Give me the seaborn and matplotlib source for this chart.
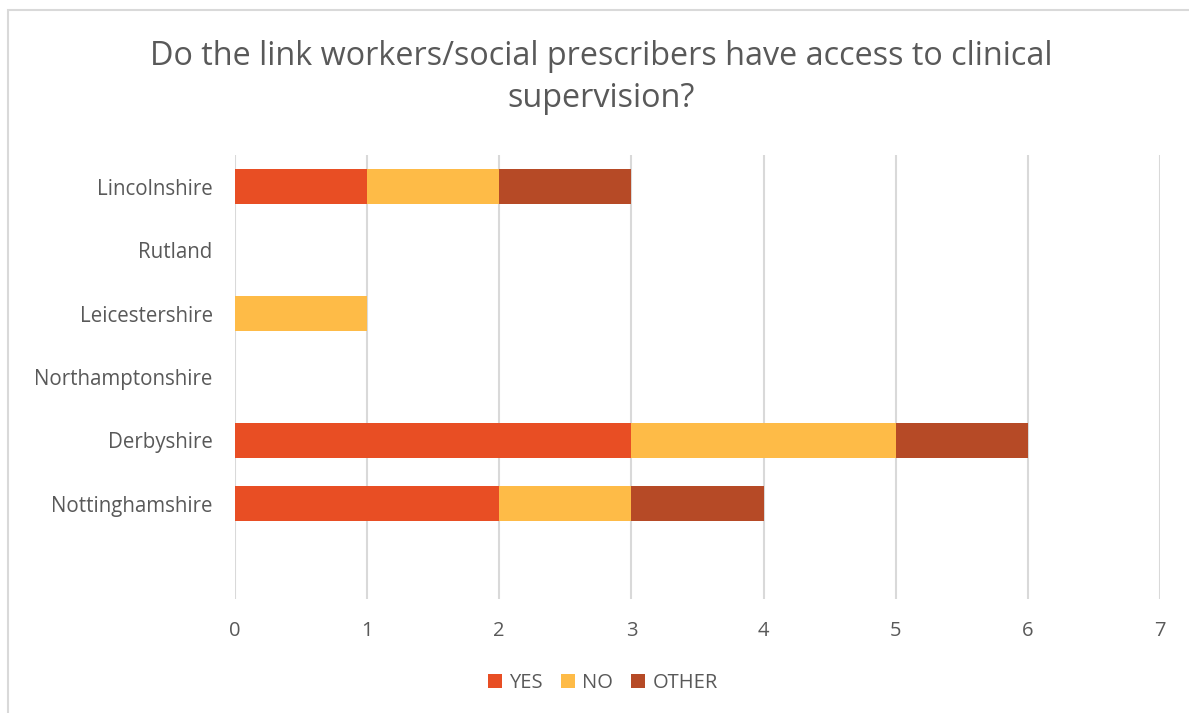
import matplotlib
matplotlib.use("Agg")
import matplotlib.pyplot as plt
from matplotlib.patches import Rectangle, Patch
import seaborn as sns
import pandas as pd
import numpy as np

# Survey responses per county
counties = ["Lincolnshire", "Rutland", "Leicestershire", "Northamptonshire",
            "Derbyshire", "Nottinghamshire"]
yes_counts = [1, 0, 0, 0, 3, 2]
no_counts = [1, 0, 1, 0, 2, 1]
other_counts = [1, 0, 0, 0, 1, 1]

series = ["YES", "NO", "OTHER"]
colors = {"YES": "#E84E24", "NO": "#FEBB47", "OTHER": "#B64A26"}
title = "Do the link workers/social prescribers have access to clinical\nsupervision?"

sns.set_theme(style="white")
plt.rcParams["font.family"] = ["Open Sans", "DejaVu Sans"]
text_color = "#595959"

df = pd.DataFrame({"county": counties, "YES": yes_counts,
                   "NO": no_counts, "OTHER": other_counts})
# cumulative right edges for stacking
df["YES_end"] = df["YES"]
df["NO_end"] = df["YES"] + df["NO"]
df["OTHER_end"] = df["YES"] + df["NO"] + df["OTHER"]

fig = plt.figure(figsize=(11.89, 7.13), dpi=100)
ax = fig.add_axes([0.1976, 0.16, 0.7780, 0.6226])

# draw the longest cumulative segment first so shorter ones sit on top
for s in reversed(series):
    sns.barplot(data=df, y="county", x=f"{s}_end", order=counties,
                color=colors[s], saturation=1, width=0.55, ax=ax,
                orient="h", edgecolor="none", linewidth=0)

ax.set_xlim(0, 7)
ax.set_ylim(6.5, -0.5)
ax.set_xticks(range(0, 8))
ax.xaxis.grid(True, color="#D9D9D9", linewidth=1.5)
ax.set_axisbelow(True)
for sp in ax.spines.values():
    sp.set_visible(False)
ax.set_xlabel("")
ax.set_ylabel("")
ax.tick_params(axis="x", length=0, pad=16, labelsize=14.5, labelcolor=text_color)
ax.tick_params(axis="y", length=0, pad=16, labelsize=14.8, labelcolor=text_color)

fig.text(0.5055, 0.891, title, ha="center", va="center", fontsize=23.3,
         color=text_color, linespacing=1.38)

handles = [Patch(facecolor=colors[s], edgecolor="none", label=s) for s in series]
fig.legend(handles=handles, loc="center", bbox_to_anchor=(0.507, 0.042),
           ncol=3, frameon=False, fontsize=14.5, labelcolor=text_color,
           handlelength=0.7, handleheight=0.7, handletextpad=0.35,
           columnspacing=0.9)

# outer chart border
fig.patches.append(Rectangle((8 / 1189, -0.01), 1.2, 1 - 10 / 713 + 0.01,
                             transform=fig.transFigure, fill=False,
                             edgecolor="#D9D9D9", linewidth=1.5))

fig.savefig("out.png", dpi=100, facecolor="white")
